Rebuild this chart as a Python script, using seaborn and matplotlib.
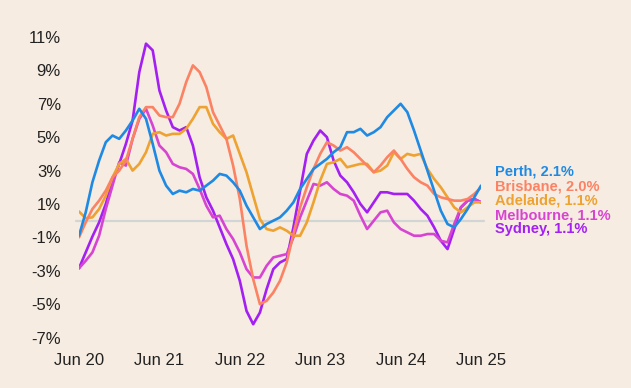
import matplotlib
matplotlib.use("Agg")
import matplotlib.pyplot as plt
import numpy as np
import pandas as pd
import seaborn as sns

# Annual growth in rents, monthly, Jun 2020 - Jun 2025 (%)
months = pd.period_range("2020-06", "2025-06", freq="M")
tick_labels = ["Jun 20", "Jun 21", "Jun 22", "Jun 23", "Jun 24", "Jun 25"]

perth = [-0.9, 0.5, 2.3, 3.6, 4.7, 5.1, 4.9, 5.4, 6.0, 6.7, 6.1, 4.6, 3.0, 2.1, 1.6, 1.8,
         1.7, 1.9, 1.8, 2.1, 2.4, 2.8, 2.7, 2.3, 1.8, 0.9, 0.2, -0.5, -0.2, 0.0, 0.2, 0.6,
         1.1, 1.9, 2.5, 3.1, 3.4, 3.7, 4.1, 4.4, 5.3, 5.3, 5.5, 5.1, 5.3, 5.6, 6.2, 6.6,
         7.0, 6.5, 5.4, 4.2, 3.0, 1.8, 0.6, -0.2, -0.4, 0.1, 0.7, 1.4, 2.1]
brisbane = [-1.0, -0.1, 0.7, 1.2, 1.8, 2.6, 3.0, 3.6, 4.9, 6.2, 6.8, 6.8, 6.3, 6.2, 6.2, 7.0,
            8.3, 9.3, 8.9, 8.0, 6.5, 5.7, 4.9, 3.3, 1.3, -1.5, -3.5, -5.0, -4.8, -4.3, -3.6, -2.5,
            -0.8, 0.8, 2.0, 3.1, 4.0, 4.7, 4.5, 4.2, 4.4, 4.1, 3.7, 3.3, 2.9, 3.3, 3.8, 4.2,
            3.7, 3.1, 2.6, 2.3, 2.1, 1.6, 1.4, 1.3, 1.2, 1.2, 1.3, 1.6, 2.0]
adelaide = [0.55, 0.15, 0.2, 0.7, 1.5, 2.6, 3.4, 3.7, 3.0, 3.4, 4.1, 5.2, 5.3, 5.1, 5.2, 5.2,
            5.5, 6.1, 6.8, 6.8, 5.8, 5.3, 4.9, 5.1, 4.0, 2.9, 1.5, 0.1, -0.5, -0.6, -0.4, -0.6,
            -0.9, -0.9, -0.1, 1.1, 2.4, 3.4, 3.5, 3.7, 3.2, 3.3, 3.4, 3.4, 2.9, 3.0, 3.3, 4.1,
            3.7, 4.0, 3.9, 4.0, 3.1, 2.5, 2.0, 1.4, 0.8, 0.5, 0.8, 1.1, 1.1]
melbourne = [-2.85, -2.4, -1.9, -0.9, 0.7, 2.1, 3.5, 3.3, 4.9, 6.1, 6.7, 5.7, 4.5, 4.1, 3.4, 3.2,
             3.1, 2.8, 1.9, 0.9, 0.2, 0.3, -0.5, -1.1, -1.9, -2.9, -3.4, -3.4, -2.7, -2.2, -2.1, -2.0,
             -1.0, 0.2, 1.2, 2.2, 2.1, 2.3, 1.9, 1.6, 1.5, 1.2, 0.3, -0.5, 0.0, 0.5, 0.6, -0.1,
             -0.5, -0.7, -0.9, -0.9, -0.8, -0.8, -1.2, -1.3, -0.2, 0.8, 1.2, 1.3, 1.1]
sydney = [-2.85, -1.9, -0.95, -0.1, 1.0, 2.4, 3.4, 4.6, 6.0, 8.9, 10.6, 10.2, 7.8, 6.6, 5.6, 5.4,
          5.6, 4.5, 2.6, 1.4, 0.6, -0.4, -1.4, -2.3, -3.6, -5.4, -6.2, -5.5, -4.1, -2.9, -2.5, -2.3,
          -0.4, 1.8, 4.0, 4.8, 5.4, 5.0, 3.6, 2.7, 2.3, 1.7, 1.0, 0.5, 1.1, 1.7, 1.7, 1.6,
          1.6, 1.6, 1.2, 0.7, 0.3, -0.4, -1.2, -1.7, -0.5, 0.8, 1.2, 1.3, 1.1]

cities = ["Perth", "Brisbane", "Adelaide", "Melbourne", "Sydney"]
series = [perth, brisbane, adelaide, melbourne, sydney]
palette = {"Perth": "#1f8ae3", "Brisbane": "#fb8263", "Adelaide": "#eea231",
           "Melbourne": "#d844d2", "Sydney": "#a41ff2"}

bg = "#f6ece1"
sns.set_style("white", {"axes.facecolor": bg, "figure.facecolor": bg})
plt.rcParams["font.family"] = ["Liberation Sans", "DejaVu Sans"]

df = pd.concat(
    [pd.DataFrame({"month": np.arange(len(months)), "growth": vals, "city": name})
     for name, vals in zip(cities, series)],
    ignore_index=True,
)

fig = plt.figure(figsize=(6.31, 3.88), dpi=100)
ax = fig.add_axes([0.1252, 0.1084, 0.6371, 0.8178])

# zero reference line, a little wider than the data
ax.plot([-0.4, 60.4], [0, 0], color="#d2d5d6", lw=1.6, zorder=1, clip_on=False)
sns.lineplot(data=df, x="month", y="growth", hue="city", palette=palette,
             hue_order=cities[::-1], linewidth=1.9, legend=False, ax=ax, zorder=3)

ax.set_xlim(0, 60)
ax.set_ylim(-7.5, 11.5)
ax.set_xticks(np.arange(0, 61, 12))
ax.set_xticklabels(tick_labels)
yt = np.arange(-7, 12, 2)
ax.set_yticks(yt)
ax.set_yticklabels([f"{v}%" for v in yt])
ax.tick_params(axis="both", length=0, labelsize=12, colors="#222222")
ax.tick_params(axis="y", pad=13)
ax.tick_params(axis="x", pad=5)
ax.set_xlabel("")
ax.set_ylabel("")
sns.despine(ax=ax, left=True, bottom=True)

# end labels, stacked from the top
for k, (name, vals) in enumerate(zip(cities, series)):
    ax.text(62.1, 2.92 - 0.86 * k, f"{name}, {vals[-1]:.1f}%", color=palette[name],
            fontsize=10.5, fontweight="bold", va="center", ha="left", clip_on=False)

fig.savefig("out.png", dpi=100, facecolor=bg)
